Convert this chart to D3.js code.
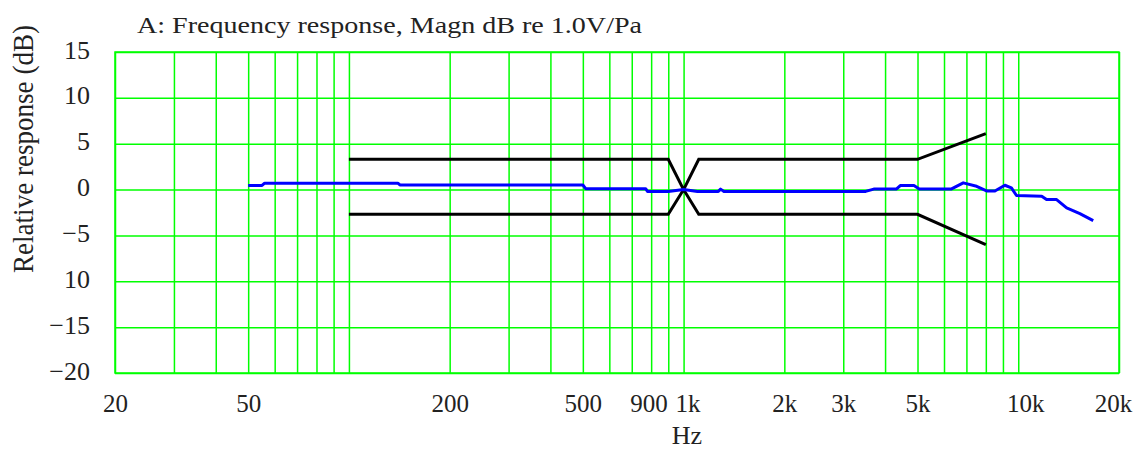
<!DOCTYPE html>
<html><head><meta charset="utf-8">
<script src="https://cdn.jsdelivr.net/npm/d3@7"></script>
<style>body{margin:0;background:#fff} svg{display:block}</style>
</head><body><svg id="c" width="1140" height="450"></svg>
<script>
// ---- data ----
const xTickValues = [20, 50, 200, 500, 900, 1000, 2000, 3000, 5000, 10000, 20000];
const xTickLabels = ["20", "50", "200", "500", "900", "1k", "2k", "3k", "5k", "10k", "20k"];
const yTickValues = [15, 10, 5, 0, -5, -10, -15, -20];
const yTickLabels = ["15", "10", "5", "0", "\u22125", "10", "\u221215", "\u221220"];

const responseFreq = [50, 55, 56, 140, 142, 500, 510, 770, 780, 900, 1000, 1100, 1270, 1290, 1320, 3500, 3700, 4330, 4440, 4880, 5060, 6320, 6850, 7510, 8040, 8516, 9120, 9540, 9880, 11750, 12150, 13020, 13950, 15280, 16750];
const responseDb   = [0.45, 0.45, 0.7, 0.7, 0.5, 0.5, 0.1, 0.1, -0.2, -0.2, 0.0, -0.2, -0.2, 0.05, -0.2, -0.2, 0.05, 0.07, 0.44, 0.44, 0.07, 0.07, 0.73, 0.36, -0.15, -0.15, 0.47, 0.18, -0.65, -0.73, -1.09, -1.09, -2.0, -2.62, -3.38];

const upperFreq = [100, 900, 1000, 1110, 5000, 8000];
const upperDb   = [3.3, 3.3, 0, 3.3, 3.3, 6.1];
const lowerFreq = [100, 900, 1000, 1110, 5000, 8000];
const lowerDb   = [-2.7, -2.7, 0, -2.7, -2.7, -6.0];

const titleText = "A: Frequency response, Magn dB re 1.0V/Pa";
const yTitle = "Relative response (dB)";
const xTitle = "Hz";

// ---- drawing ----
const svg = d3.select("#c");
const FONT = "'Liberation Serif', 'Times New Roman', serif";
const pL = 115, pR = 1119, pT = 52, pB = 373;
const x = d3.scaleLog().domain([20, 20000]).range([pL, pR]);
const y = d3.scaleLinear().domain([-20, 15]).range([pB, pT]);

svg.append("rect").attr("width", 1140).attr("height", 450).attr("fill", "#fff");

// grid via axes
const gx = svg.append("g").attr("transform", `translate(0,${pB})`)
  .call(d3.axisBottom(x).tickValues(x.ticks()).tickSize(-(pB - pT)).tickFormat(""));
const gy = svg.append("g").attr("transform", `translate(${pL},0)`)
  .call(d3.axisLeft(y).tickValues(yTickValues).tickSize(-(pR - pL)).tickFormat(""));
[gx, gy].forEach(g => {
  g.select(".domain").remove();
  g.selectAll(".tick line").attr("stroke", "#00ff00").attr("stroke-width", 1.5);
});
svg.append("rect").attr("x", pL).attr("y", pT).attr("width", pR - pL).attr("height", pB - pT)
  .attr("fill", "none").attr("stroke", "#00ff00").attr("stroke-width", 1.5);

// x labels
const nudge = {900: {anchor: "end", dx: -1}, 1000: {anchor: "middle", dx: 4}, 10000: {anchor: "middle", dx: 7}, 20000: {anchor: "middle", dx: -6}};
const lx = svg.append("g").attr("transform", `translate(0,${pB})`)
  .call(d3.axisBottom(x).tickValues(xTickValues).tickSize(0)
    .tickFormat((d, i) => xTickLabels[i]));
lx.select(".domain").remove();
lx.selectAll(".tick text")
  .attr("font-family", FONT).attr("font-size", 25).attr("fill", "#222")
  .attr("y", 39).attr("dy", 0)
  .attr("text-anchor", d => (nudge[d] ? nudge[d].anchor : "middle"))
  .attr("dx", d => (nudge[d] ? nudge[d].dx : 0));

// y labels
const ly = svg.append("g").attr("transform", `translate(${pL},0)`)
  .call(d3.axisLeft(y).tickValues(yTickValues).tickSize(0)
    .tickFormat((d, i) => yTickLabels[i]));
ly.select(".domain").remove();
ly.selectAll(".tick text")
  .attr("font-family", FONT).attr("font-size", 26).attr("fill", "#222")
  .attr("x", -25).attr("dy", 6).attr("text-anchor", "end");

// lines
const line = d3.line().x(d => x(d[0])).y(d => y(d[1]));
svg.append("path").datum(upperFreq.map((f, i) => [f, upperDb[i]]))
  .attr("d", line).attr("fill", "none").attr("stroke", "#000").attr("stroke-width", 3);
svg.append("path").datum(lowerFreq.map((f, i) => [f, lowerDb[i]]))
  .attr("d", line).attr("fill", "none").attr("stroke", "#000").attr("stroke-width", 3);
svg.append("path").datum(responseFreq.map((f, i) => [f, responseDb[i]]))
  .attr("d", line).attr("fill", "none").attr("stroke", "#0000ff").attr("stroke-width", 3)
  .attr("stroke-linejoin", "round");

// titles
svg.append("text").attr("x", 137).attr("y", 33).text(titleText)
  .attr("font-family", FONT).attr("font-size", 24).attr("fill", "#222")
  .attr("textLength", 505).attr("lengthAdjust", "spacingAndGlyphs");
svg.append("text").attr("transform", "translate(33,149) rotate(-90)").attr("text-anchor", "middle")
  .text(yTitle).attr("font-family", FONT).attr("font-size", 29).attr("fill", "#222")
  .attr("textLength", 248).attr("lengthAdjust", "spacingAndGlyphs");
svg.append("text").attr("x", 687).attr("y", 444).attr("text-anchor", "middle").text(xTitle)
  .attr("font-family", FONT).attr("font-size", 26).attr("fill", "#222");
</script>
</body></html>
